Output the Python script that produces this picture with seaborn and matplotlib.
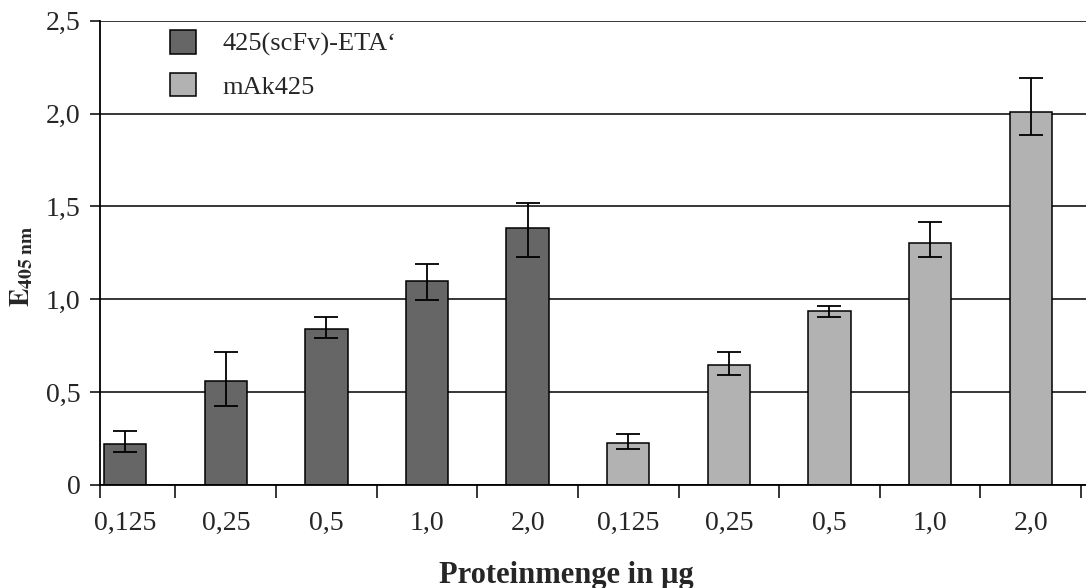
import numpy as np
import pandas as pd
import matplotlib
matplotlib.use("Agg")
import matplotlib.pyplot as plt
import seaborn as sns
from matplotlib.ticker import FixedLocator, FuncFormatter, MultipleLocator

# ---- data ----
series_names = ["425(scFv)-ETA\u2018", "mAk425"]
doses = ["0,125", "0,25", "0,5", "1,0", "2,0"]
scfv_values = [0.221, 0.560, 0.840, 1.100, 1.386]
scfv_err_low = [0.042, 0.135, 0.050, 0.102, 0.157]
scfv_err_high = [0.070, 0.154, 0.063, 0.090, 0.131]
mak_values = [0.228, 0.646, 0.939, 1.302, 2.010]
mak_err_low = [0.032, 0.056, 0.036, 0.074, 0.126]
mak_err_high = [0.048, 0.068, 0.025, 0.116, 0.180]
y_label = "E"
y_sub = "405 nm"
x_label = "Proteinmenge in \u00b5g"
colors = ["#666666", "#b2b2b2"]

# ---- build frame ----
cats = [f"{s}|{d}" for s in series_names for d in doses]
df = pd.DataFrame({
    "cat": cats,
    "value": scfv_values + mak_values,
    "series": [series_names[0]] * 5 + [series_names[1]] * 5,
    "err_low": scfv_err_low + mak_err_low,
    "err_high": scfv_err_high + mak_err_high,
})

sns.set_style("white")
plt.rcParams["font.family"] = ["Liberation Serif", "DejaVu Serif"]
plt.rcParams["mathtext.fontset"] = "stix"

fig = plt.figure(figsize=(10.86, 5.88), dpi=100)
ax = fig.add_axes([100 / 1086, 1 - 485 / 588, 986 / 1086, (485 - 20.7) / 588])

sns.barplot(data=df, x="cat", y="value", hue="series", order=cats,
            hue_order=series_names, palette=colors, dodge=False, width=0.42,
            edgecolor="black", linewidth=1.1, errorbar=None, ax=ax,
            saturation=1)

# category positions from the categorical scale
xs = list(ax.get_xticks())
ax.errorbar(xs, df["value"], yerr=[df["err_low"], df["err_high"]], fmt="none",
            ecolor="black", elinewidth=1.3, capsize=8.3, capthick=1.3, zorder=5)

ax.set_xlim(-0.25, 9.55)
ax.set_ylim(0, 2.5)
ax.set_axisbelow(True)
ax.yaxis.set_major_locator(MultipleLocator(0.5))
ax.yaxis.set_major_formatter(FuncFormatter(
    lambda v, p: "0" if abs(v) < 1e-9 else f"{v:.1f}".replace(".", ",")))
ax.grid(axis="y", color="black", linewidth=1.1)
ax.grid(axis="x", visible=False)

ax.set_xticks(xs)
ax.set_xticklabels(doses + doses)
ax.xaxis.set_minor_locator(FixedLocator([-0.25] + list(np.arange(0.5, 9.6, 1.0))))
ax.tick_params(axis="x", which="major", length=0, pad=19, labelsize=20)
ax.tick_params(axis="x", which="minor", length=9, width=1.1, color="black",
               direction="out", bottom=True)
ax.tick_params(axis="y", which="major", length=7, width=1.1, color="black",
               direction="out", left=True, pad=7, labelsize=20)

for s in ["top", "right"]:
    ax.spines[s].set_visible(False)
for s in ["left", "bottom"]:
    ax.spines[s].set_color("black")
    ax.spines[s].set_linewidth(1.3)

ax.set_xlabel(x_label, fontsize=22, fontweight="bold")
ax.xaxis.set_label_coords(0.4726, -0.163)
ax.set_ylabel(r"$\mathbf{" + y_label + r"_{405\ nm}}$", fontsize=20)
ax.yaxis.set_label_coords(-0.066, 0.47)

leg = ax.legend(loc="upper left", bbox_to_anchor=(0.071, 0.98), frameon=False,
                fontsize=19, handlelength=1.0, handleheight=1.0,
                handletextpad=1.0, labelspacing=0.63, borderpad=0,
                borderaxespad=0)
for h in leg.legend_handles:
    h.set_edgecolor("black")
    h.set_linewidth(1.1)

fig.savefig("out.png", dpi=100)
